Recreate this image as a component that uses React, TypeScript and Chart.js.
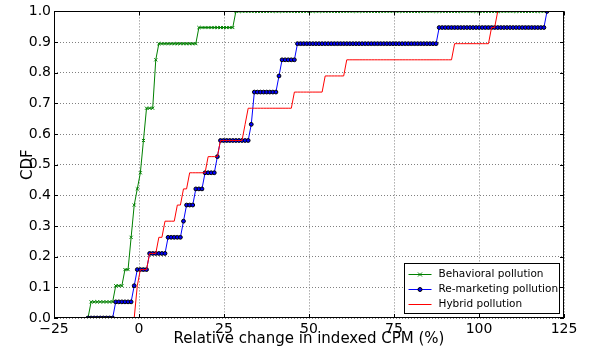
import { useEffect, useRef } from "react";
import { Chart, registerables } from "chart.js";

Chart.register(...registerables);

// ---- Data ----
const xTicks = [-25, 0, 25, 50, 75, 100, 125];
const yTicks = [0, 0.1, 0.2, 0.3, 0.4, 0.5, 0.6, 0.7, 0.8, 0.9, 1.0];

// Range and number of points at which each empirical CDF is evaluated
const evalStart = -15;
const evalEnd = 120;
const evalCount = 150;

// Relative change in indexed CPM (%) per sample (19 samples each)
const behavioralSamples = [
  -14.2, -7.4, -4.4, -2.7, -2.5, -2.2, -1.5, -0.6, -0.2, 0.5,
  1.2, 1.6, 1.9, 4.2, 4.5, 4.8, 5.3, 17.4, 27.6,
];
const remarketingSamples = [
  -7.1, -1.5, -0.9, 2.9, 7.9, 12.9, 13.2, 16.5, 19.1, 22.6,
  23.5, 32.6, 33.2, 33.4, 40.9, 41.2, 46.5, 87.6, 119.7,
];
const hybridSamples = [
  -0.8, -0.6, -0.3, 2.9, 5.8, 6.9, 10.6, 12.4, 14.4, 20.3,
  23.8, 30.6, 31.5, 45.6, 54.7, 60.9, 92.6, 103.5, 105.3,
];

const seriesLabels = ["Behavioral pollution", "Re-marketing pollution", "Hybrid pollution"];
const xTitle = "Relative change in indexed CPM (%)";
const yTitle = "CDF";

const FONT = "'DejaVu Sans', sans-serif";

function ecdf(samples: number[]) {
  const pts: { x: number; y: number }[] = [];
  const n = samples.length;
  for (let i = 0; i < evalCount; i++) {
    const x = evalStart + ((evalEnd - evalStart) * i) / (evalCount - 1);
    let c = 0;
    for (const s of samples) if (s <= x) c++;
    pts.push({ x, y: c / n });
  }
  return pts;
}

const framePlugin = {
  id: "frameAndLegend",
  afterDraw(chart: any) {
    const { ctx, chartArea } = chart;
    const { left, right, top, bottom } = chartArea;
    const xs = chart.scales.x;
    const ys = chart.scales.y;
    ctx.save();
    // frame
    ctx.strokeStyle = "#000";
    ctx.lineWidth = 1;
    ctx.setLineDash([]);
    ctx.strokeRect(Math.round(left) + 0.5, Math.round(top) + 0.5, Math.round(right - left) - 1, Math.round(bottom - top) - 1);
    // inward ticks
    const tl = 4;
    ctx.beginPath();
    for (const v of xTicks) {
      const px = Math.round(xs.getPixelForValue(v)) + 0.5;
      ctx.moveTo(px, bottom);
      ctx.lineTo(px, bottom - tl);
      ctx.moveTo(px, top);
      ctx.lineTo(px, top + tl);
    }
    for (const v of yTicks) {
      const py = Math.round(ys.getPixelForValue(v)) + 0.5;
      ctx.moveTo(left, py);
      ctx.lineTo(left + tl, py);
      ctx.moveTo(right, py);
      ctx.lineTo(right - tl, py);
    }
    ctx.stroke();

    // legend
    const w = 155;
    const h = 50;
    const lx = Math.round(right - 5 - w) + 0.5;
    const ly = Math.round(bottom - 5 - h) + 0.5;
    ctx.fillStyle = "#fff";
    ctx.fillRect(lx, ly, w, h);
    ctx.strokeStyle = "#000";
    ctx.strokeRect(lx, ly, w, h);
    ctx.font = `10.5px ${FONT}`;
    ctx.textBaseline = "middle";
    ctx.textAlign = "left";
    chart.data.datasets.forEach((ds: any, i: number) => {
      const cy = Math.round(ly + 10 + i * 15) + 0.5;
      const x0 = lx + 4;
      const x1 = lx + 27;
      ctx.strokeStyle = ds.borderColor;
      ctx.lineWidth = 1;
      ctx.beginPath();
      ctx.moveTo(x0, cy);
      ctx.lineTo(x1, cy);
      ctx.stroke();
      const mx = (x0 + x1) / 2;
      if (ds.pointStyle === "crossRot") {
        ctx.strokeStyle = ds.pointBorderColor;
        ctx.beginPath();
        ctx.moveTo(mx - 2, cy - 2);
        ctx.lineTo(mx + 2, cy + 2);
        ctx.moveTo(mx - 2, cy + 2);
        ctx.lineTo(mx + 2, cy - 2);
        ctx.stroke();
      } else if (ds.pointRadius > 0) {
        ctx.fillStyle = ds.pointBackgroundColor;
        ctx.strokeStyle = ds.pointBorderColor;
        ctx.beginPath();
        ctx.arc(mx, cy, 2, 0, Math.PI * 2);
        ctx.fill();
        ctx.stroke();
      }
      ctx.fillStyle = "#000";
      ctx.fillText(ds.label, lx + 34, cy);
    });
    ctx.restore();
  },
};

export default function App() {
  const ref = useRef<HTMLCanvasElement | null>(null);

  useEffect(() => {
    document.body.style.margin = "0";
    const canvas = ref.current;
    if (!canvas) return;
    const chart = new Chart(canvas, {
      type: "line",
      data: {
        datasets: [
          {
            label: seriesLabels[0],
            data: ecdf(behavioralSamples),
            borderColor: "#008000",
            backgroundColor: "#008000",
            borderWidth: 1,
            pointStyle: "crossRot",
            pointRadius: 2.2,
            pointBorderColor: "#008000",
            pointBackgroundColor: "#008000",
            pointBorderWidth: 1,
            tension: 0,
            order: 3,
          },
          {
            label: seriesLabels[1],
            data: ecdf(remarketingSamples),
            borderColor: "#0000ff",
            backgroundColor: "#0000ff",
            borderWidth: 1,
            pointStyle: "circle",
            pointRadius: 1.9,
            pointBorderColor: "#000000",
            pointBackgroundColor: "#0000ff",
            pointBorderWidth: 1,
            tension: 0,
            order: 2,
          },
          {
            label: seriesLabels[2],
            data: ecdf(hybridSamples),
            borderColor: "#ff0000",
            backgroundColor: "#ff0000",
            borderWidth: 1,
            pointRadius: 0,
            tension: 0,
            order: 1,
          },
        ],
      },
      options: {
        animation: false,
        responsive: false,
        maintainAspectRatio: false,
        events: [],
        layout: { padding: { left: 0, top: 8, right: 27, bottom: 0 } },
        plugins: {
          legend: { display: false },
          tooltip: { enabled: false },
        },
        scales: {
          x: {
            type: "linear",
            min: -25,
            max: 125,
            afterBuildTicks: (s: any) => {
              s.ticks = xTicks.map((v) => ({ value: v }));
            },
            afterFit: (s: any) => {
              s.height = 33;
            },
            ticks: {
              autoSkip: false,
              maxRotation: 0,
              padding: 3,
              color: "#000",
              font: { family: FONT, size: 14 },
              callback: (v: any) => String(v).replace("-", "\u2212"),
            },
            grid: { color: "#808080", lineWidth: 1, drawTicks: false },
            border: { display: false, dash: [1, 2] },
            title: {
              display: true,
              text: xTitle,
              color: "#000",
              font: { family: FONT, size: 15 },
              padding: { top: 0, bottom: 3 },
            },
          },
          y: {
            type: "linear",
            min: 0,
            max: 1,
            afterBuildTicks: (s: any) => {
              s.ticks = yTicks.map((v) => ({ value: v }));
            },
            afterFit: (s: any) => {
              s.width = 54;
            },
            ticks: {
              autoSkip: false,
              padding: 3,
              color: "#000",
              font: { family: FONT, size: 14 },
              callback: (v: any) => Number(v).toFixed(1),
            },
            grid: { color: "#808080", lineWidth: 1, drawTicks: false },
            border: { display: false, dash: [1, 2] },
            title: {
              display: true,
              text: yTitle,
              color: "#000",
              font: { family: FONT, size: 15 },
              padding: { top: 19, bottom: 0 },
            },
          },
        },
      },
      plugins: [framePlugin],
    } as any);
    return () => chart.destroy();
  }, []);

  return (
    <canvas
      ref={ref}
      width={591}
      height={351}
      style={{ display: "block", width: 591, height: 351 }}
    />
  );
}
